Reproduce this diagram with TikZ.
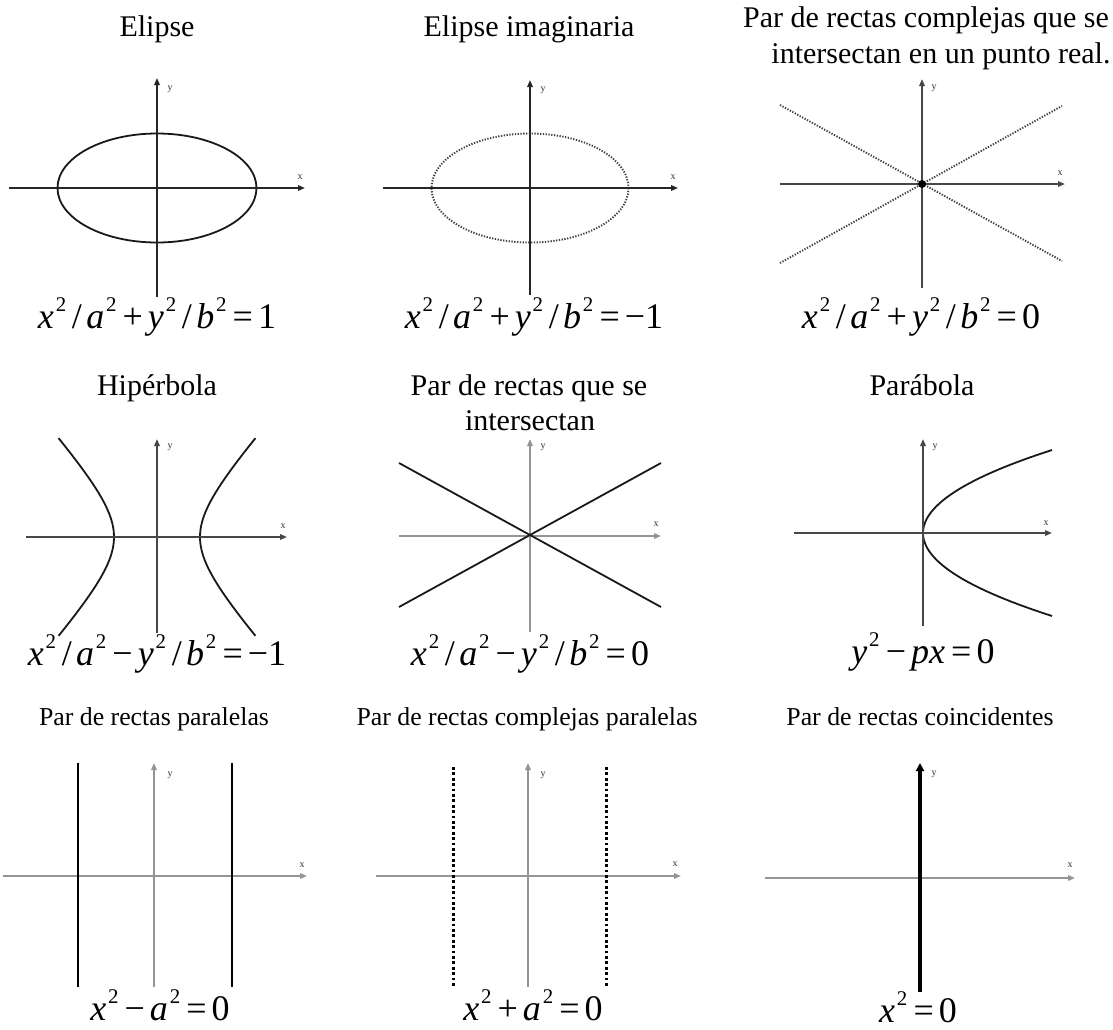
\documentclass[tikz,border=0pt]{standalone}
\usepackage{fontspec}
\setmainfont{Liberation Serif}
\usepackage{graphicx}
\usetikzlibrary{arrows.meta}
\newcommand{\sqq}{\kern0.05em\raisebox{0.45em}{\scalebox{0.58}{2}}}
\newcommand{\gA}{\hspace{0.16em}}% before slash
\newcommand{\gB}{\hspace{0.12em}}% after slash
\newcommand{\gC}{\hspace{0.17em}}% before operator
\newcommand{\gD}{\hspace{0.14em}}% after operator
\begin{document}
\begin{tikzpicture}[x=1pt,y=-1pt,
  ttl/.style={anchor=base,inner sep=0,font=\fontsize{30}{34}\selectfont},
  ttls/.style={anchor=base,inner sep=0,font=\fontsize{25.8}{30}\selectfont},
  eqn/.style={anchor=base,inner sep=0,font=\fontsize{36}{40}\selectfont},
  lbl/.style={inner sep=0,font=\fontsize{10}{10}\selectfont,text=black!80},
  axdark/.style={draw=black!85,line width=1.7pt,-{Triangle[length=7pt,width=5.5pt]}},
  axmid/.style={draw=black!72,line width=1.7pt,-{Triangle[length=7pt,width=5.5pt]}},
  axgray/.style={draw=black!42,line width=1.7pt,-{Triangle[length=7pt,width=5.5pt]}},
  curve/.style={draw=black!90,line width=1.8pt},
  finedots/.style={draw=black!75,line width=1.9pt,dash pattern=on 1.3pt off 1.5pt},
  bigdots/.style={draw=black,line width=3pt,dash pattern=on 2.7pt off 2.7pt},
]
\fill[white] (0,0) rectangle (1113,1029);
\useasboundingbox (0,0) rectangle (1113,1029);

% ---------- Panel 1: Elipse
\node[ttl] (t1) at (157,36) {Elipse};
\coordinate (a1l) at (9,188); \coordinate (a1r) at (305,188);
\coordinate (a1b) at (157,297); \coordinate (a1t) at (157,78);
\draw[curve] (157,188) ellipse [x radius=99.5, y radius=54.5];
\draw[axdark] (a1l) -- (a1r);
\draw[axdark] (a1b) -- (a1t);
\node[lbl] (y1) at (170,89) {y};
\node[lbl] (x1) at (300,177) {x};
\node[eqn] (e1) at (157,328) {\textit{x}\sqq\gA/\gB\textit{a}\sqq\gC+\gD\textit{y}\sqq\gA/\gB\textit{b}\sqq\gC=\gD1};

% ---------- Panel 2: Elipse imaginaria
\node[ttl] (t2) at (529,36) {Elipse imaginaria};
\coordinate (a2l) at (383,188); \coordinate (a2r) at (678,188);
\coordinate (a2b) at (530,295); \coordinate (a2t) at (530,80);
\draw[finedots] (530,188) ellipse [x radius=98.5, y radius=54.5];
\draw[axdark] (a2l) -- (a2r);
\draw[axdark] (a2b) -- (a2t);
\node[lbl] (y2) at (543,90) {y};
\node[lbl] (x2) at (673,177) {x};
\node[eqn] (e2) at (534,328) {\textit{x}\sqq\gA/\gB\textit{a}\sqq\gC+\gD\textit{y}\sqq\gA/\gB\textit{b}\sqq\gC=\gD−1};

% ---------- Panel 3: rectas complejas que se intersectan
\node[ttl] (t3a) at (926,27) {Par de rectas complejas que se};
\node[ttl] (t3b) at (941,63) {intersectan en un punto real.};
\coordinate (a3l) at (780,184); \coordinate (a3r) at (1065,184);
\coordinate (a3b) at (922,288); \coordinate (a3t) at (922,79);
\coordinate (d3a) at (780,105); \coordinate (d3b) at (1062,261);
\coordinate (d3c) at (780,263); \coordinate (d3d) at (1062,106);
\draw[finedots] (d3a) -- (d3b);
\draw[finedots] (d3c) -- (d3d);
\draw[axmid] (a3l) -- (a3r);
\draw[axmid] (a3b) -- (a3t);
\fill[black] (922,184) circle [radius=4];
\node[lbl] (y3) at (934,88) {y};
\node[lbl] (x3) at (1060,173) {x};
\node[eqn] (e3) at (921,328) {\textit{x}\sqq\gA/\gB\textit{a}\sqq\gC+\gD\textit{y}\sqq\gA/\gB\textit{b}\sqq\gC=\gD0};

% ---------- Panel 4: Hiperbola
\node[ttl] (t4) at (157,395) {Hipérbola};
\coordinate (a4l) at (26,537); \coordinate (a4r) at (287,537);
\coordinate (a4b) at (157,633); \coordinate (a4t) at (157,439);
\draw[curve] plot[domain=-1.47:1.47,samples=60] ({157+43*cosh(\x)},{537+48*sinh(\x)});
\draw[curve] plot[domain=-1.47:1.47,samples=60] ({157-43*cosh(\x)},{537+48*sinh(\x)});
\draw[axmid] (a4l) -- (a4r);
\draw[axmid] (a4b) -- (a4t);
\node[lbl] (y4) at (170,447) {y};
\node[lbl] (x4) at (283,526) {x};
\node[eqn] (e4) at (157,665) {\textit{x}\sqq\gA/\gB\textit{a}\sqq\gC−\gD\textit{y}\sqq\gA/\gB\textit{b}\sqq\gC=\gD−1};

% ---------- Panel 5: rectas que se intersectan
\node[ttl] (t5a) at (529,395) {Par de rectas que se};
\node[ttl] (t5b) at (530,430) {intersectan};
\coordinate (a5l) at (399,536); \coordinate (a5r) at (661,536);
\coordinate (a5b) at (530,632); \coordinate (a5t) at (530,439);
\coordinate (l5a) at (399,463); \coordinate (l5b) at (661,607);
\coordinate (l5c) at (399,607); \coordinate (l5d) at (661,463);
\draw[axgray] (a5l) -- (a5r);
\draw[axgray] (a5b) -- (a5t);
\draw[curve] (l5a) -- (l5b);
\draw[curve] (l5c) -- (l5d);
\node[lbl] (y5) at (543,447) {y};
\node[lbl] (x5) at (656,524) {x};
\node[eqn] (e5) at (530,665) {\textit{x}\sqq\gA/\gB\textit{a}\sqq\gC−\gD\textit{y}\sqq\gA/\gB\textit{b}\sqq\gC=\gD0};

% ---------- Panel 6: Parabola
\node[ttl] (t6) at (922,395) {Parábola};
\coordinate (a6l) at (794,533); \coordinate (a6r) at (1052,533);
\coordinate (a6b) at (923,626); \coordinate (a6t) at (923,439);
\draw[curve] plot[domain=-83:83,samples=60] ({923+\x*\x/53.4},{533+\x});
\draw[axmid] (a6l) -- (a6r);
\draw[axmid] (a6b) -- (a6t);
\node[lbl] (y6) at (935,447) {y};
\node[lbl] (x6) at (1046,523) {x};
\node[eqn] (e6) at (923,663) {\textit{y}\sqq\gC−\gD\textit{px}\gC=\gD0};

% ---------- Panel 7: rectas paralelas
\node[ttls] (t7) at (154,725) {Par de rectas paralelas};
\coordinate (a7l) at (3,876); \coordinate (a7r) at (307,876);
\coordinate (a7b) at (154,987); \coordinate (a7t) at (154,763);
\draw[axgray] (a7l) -- (a7r);
\draw[axgray] (a7b) -- (a7t);
\coordinate (p7a) at (78,763); \coordinate (p7b) at (78,987);
\coordinate (p7c) at (232,763); \coordinate (p7d) at (232,987);
\draw[curve,draw=black] (p7a) -- (p7b);
\draw[curve,draw=black] (p7c) -- (p7d);
\node[lbl] (y7) at (170,775) {y};
\node[lbl] (x7) at (302,865) {x};
\node[eqn] (e7) at (160,1020) {\textit{x}\sqq\gC−\gD\textit{a}\sqq\gC=\gD0};

% ---------- Panel 8: rectas complejas paralelas
\node[ttls] (t8) at (527,725) {Par de rectas complejas paralelas};
\coordinate (a8l) at (376,876); \coordinate (a8r) at (681,876);
\coordinate (a8b) at (528,987); \coordinate (a8t) at (528,763);
\draw[axgray] (a8l) -- (a8r);
\draw[axgray] (a8b) -- (a8t);
\coordinate (p8a) at (453,767); \coordinate (p8b) at (453,986);
\coordinate (p8c) at (606,767); \coordinate (p8d) at (606,986);
\draw[bigdots] (p8a) -- (p8b);
\draw[bigdots] (p8c) -- (p8d);
\node[lbl] (y8) at (543,775) {y};
\node[lbl] (x8) at (675,864) {x};
\node[eqn] (e8) at (533,1020) {\textit{x}\sqq\gC+\gD\textit{a}\sqq\gC=\gD0};

% ---------- Panel 9: rectas coincidentes
\node[ttls] (t9) at (920,725) {Par de rectas coincidentes};
\coordinate (a9l) at (765,878); \coordinate (a9r) at (1075,878);
\coordinate (a9b) at (920,992); \coordinate (a9t) at (920,763);
\draw[axgray] (a9l) -- (a9r);
\draw[draw=black,line width=4.2pt,-{Triangle[length=8pt,width=8pt]}] (a9b) -- (a9t);
\node[lbl] (y9) at (934,774) {y};
\node[lbl] (x9) at (1070,865) {x};
\node[eqn] (e9) at (918,1022) {\textit{x}\sqq\gC=\gD0};
\end{tikzpicture}
\end{document}
